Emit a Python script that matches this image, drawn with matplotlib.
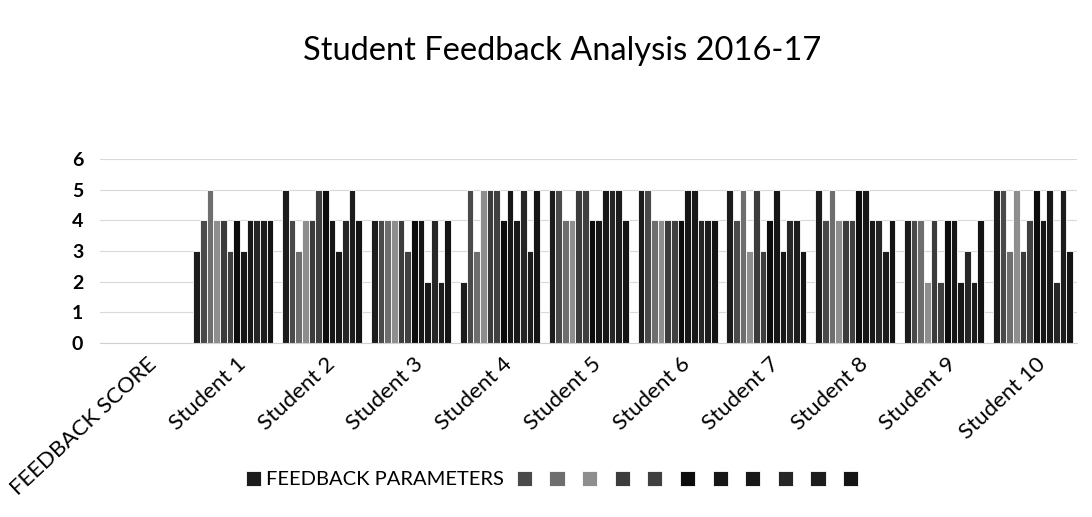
import numpy as np
import matplotlib
matplotlib.use("Agg")
import matplotlib.pyplot as plt

plt.rcParams['font.family'] = ['Lato', 'DejaVu Sans']

categories = ["FEEDBACK SCORE", "Student 1", "Student 2", "Student 3", "Student 4",
              "Student 5", "Student 6", "Student 7", "Student 8", "Student 9", "Student 10"]

# one row per student, 12 feedback parameters each (first category has no bars)
scores = [
    [0, 0, 0, 0, 0, 0, 0, 0, 0, 0, 0, 0],
    [3, 4, 5, 4, 4, 3, 4, 3, 4, 4, 4, 4],
    [5, 4, 3, 4, 4, 5, 5, 4, 3, 4, 5, 4],
    [4, 4, 4, 4, 4, 3, 4, 4, 2, 4, 2, 4],
    [2, 5, 3, 5, 5, 5, 4, 5, 4, 5, 3, 5],
    [5, 5, 4, 4, 5, 5, 4, 4, 5, 5, 5, 4],
    [5, 5, 4, 4, 4, 4, 4, 5, 5, 4, 4, 4],
    [5, 4, 5, 3, 5, 3, 4, 5, 3, 4, 4, 3],
    [5, 4, 5, 4, 4, 4, 5, 5, 4, 4, 3, 4],
    [4, 4, 4, 2, 4, 2, 4, 4, 2, 3, 2, 4],
    [5, 5, 3, 5, 3, 4, 5, 4, 5, 2, 5, 3],
]

series_labels = ["FEEDBACK PARAMETERS"] + [""] * 11
series_colors = ["#1c1c1c", "#4a4a4a", "#6e6e6e", "#8e8e8e", "#3c3c3c", "#404040",
                 "#0c0c0c", "#161616", "#181818", "#262626", "#1c1c1c", "#141414"]

data = np.array(scores)
n_cat, n_ser = data.shape
x = np.arange(n_cat)
group_w = 0.9
bw = group_w / n_ser

fig = plt.figure(figsize=(10.92, 5.17), dpi=100)
ax = fig.add_axes([0.0916, 0.3366, 0.895, 0.356])

handles = []
for j in range(n_ser):
    pos = x - group_w / 2 + bw * (j + 0.5)
    b = ax.bar(pos, data[:, j], width=bw, color=series_colors[j], edgecolor="white",
               linewidth=0.6, zorder=2)
    handles.append(b)

ax.set_xlim(-0.5, n_cat - 0.5)
ax.set_ylim(0, 6)
ax.set_yticks(range(0, 7))
ax.yaxis.grid(True, color="#d9d9d9", linewidth=0.8, zorder=0)
ax.set_axisbelow(True)
for s in ["top", "right", "left"]:
    ax.spines[s].set_visible(False)
ax.spines["bottom"].set_color("#d0d0d0")
ax.tick_params(axis="y", length=0, labelsize=14, pad=12)
ax.tick_params(axis="x", length=0, labelsize=16, pad=8)
for t in ax.get_yticklabels():
    t.set_fontweight("bold")

ax.set_xticks(x + 0.03)
ax.set_xticklabels(categories, rotation=43, ha="right", rotation_mode="anchor")

fig.suptitle("Student Feedback Analysis 2016-17", fontsize=23.5, x=0.515, y=0.93)

leg = fig.legend(handles, series_labels, loc="center", bbox_to_anchor=(0.508, 0.072),
                 ncol=12, frameon=False, handlelength=0.75, handleheight=0.75,
                 handletextpad=0.25, columnspacing=0.62, fontsize=14.5)

fig.savefig("out.png", dpi=100)
